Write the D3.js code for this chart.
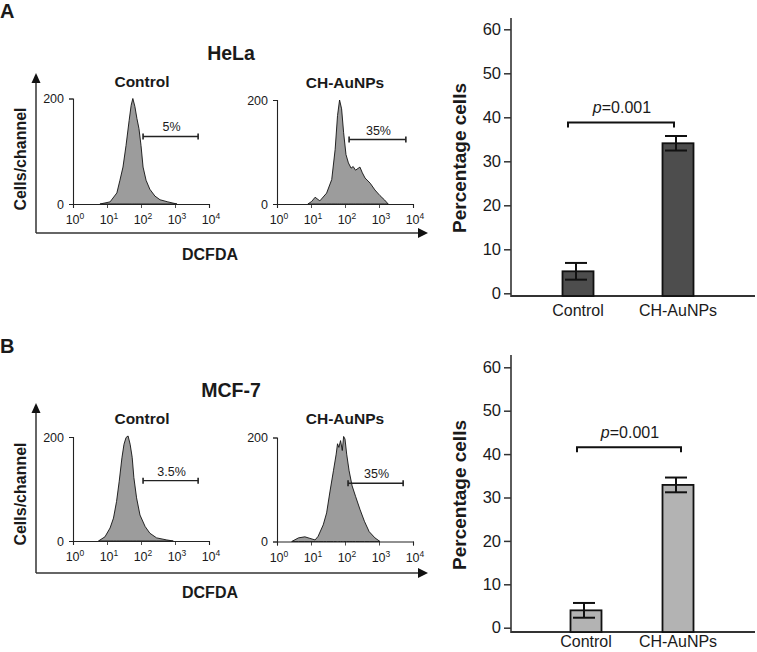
<!DOCTYPE html>
<html><head><meta charset="utf-8">
<script src="https://cdn.jsdelivr.net/npm/d3@7"></script>
<style>body{margin:0;background:#fff} text{font-family:Arial,"Liberation Sans",Helvetica,sans-serif;fill:#1a1a1a}</style>
</head><body><svg id="c" width="757" height="652"></svg>
<script>
// ---------- DATA ----------
// Flow cytometry histograms: DCFDA fluorescence (log scale) vs cells/channel
const histDecades = [0, 1, 2, 3, 4];
const histCountLabels = [0, 200];
const histMinorCounts = [0,10,20,30,40,50,60,70,80,90,100,110,120,130,140,150,160,170,180,190,200];
const histMajorCounts = [0, 50, 100, 150, 200];

const helaControlFL    = [6.2, 12.3, 19.5, 24, 29.5, 36.3, 44.7, 51.3, 57.5, 66, 75.9, 87.1, 100, 115, 141, 182, 257, 363, 617, 1148];
const helaControlCount = [0, 4, 21, 45, 70, 111, 158, 187, 200, 185, 162, 143, 111, 70, 45, 28, 15, 8, 4, 0];

const helaTreatedFL    = [8.1, 10.5, 13.2, 18.2, 28.8, 40.7, 51.3, 60.3, 69.2, 79.4, 91.2, 107, 126, 151, 174, 204, 275, 324, 389, 550, 759, 1072, 1445, 1862];
const helaTreatedCount = [0, 5, 13, 6, 21, 47, 105, 170, 200, 183, 137, 95, 79, 69, 72, 65, 71, 60, 50, 40, 27, 16, 8, 0];

const mcfControlFL     = [5.6, 8.7, 12.3, 15.5, 19.1, 22.9, 27.5, 31.6, 36.3, 41.7, 47.9, 55, 61.7, 74.1, 93.3, 132, 182, 288, 575, 891];
const mcfControlCount  = [0, 8, 25, 44, 76, 115, 160, 186, 199, 202, 186, 161, 122, 83, 50, 28, 15, 6, 2, 0];

const mcfTreatedFL     = [2.7, 4.3, 6.6, 9.3, 13.2, 16.2, 22.9, 28.8, 36.3, 45.7, 55, 60.3, 66, 74.1, 83.2, 91.2, 100, 112, 132, 162, 204, 275, 372, 513, 759, 1072];
const mcfTreatedCount  = [0, 7, 9, 6, 3, 10, 32, 55, 97, 136, 168, 188, 181, 194, 175, 202, 197, 168, 136, 107, 87, 62, 39, 19, 7, 0];

const gateRanges = [[115, 4786], [132, 6166], [115, 4786], [123, 5129]];
const gateLevels = [128, 124, 116, 112];
const gateLabels = ["5%", "35%", "3.5%", "35%"];

// Bar charts: percentage of DCFDA-positive cells
const barCategories = ["Control", "CH-AuNPs"];
const barTicks = [0, 10, 20, 30, 40, 50, 60];
const helaMeans = [5.0, 34.1];
const helaErrors = [1.9, 1.65];
const mcfMeans = [4.0, 32.9];
const mcfErrors = [1.7, 1.7];
const bracketLevels = [38.8, 41.6];
const pLabel = "0.001";

// ---------- DRAWING ----------
const svg = d3.select("#c");
const FONT = 'Arial,"Liberation Sans",Helvetica,sans-serif';
const zip = (a, b) => a.map((v, i) => [v, b[i]]);

function bigAxes(top, bottom) {
  const g = svg.append("g");
  g.append("line").attr("x1", 36).attr("x2", 36).attr("y1", bottom).attr("y2", top + 8)
    .attr("stroke", "#333").attr("stroke-width", 1.5);
  g.append("path").attr("d", `M36,${top} L31.5,${top + 10} L40.5,${top + 10} Z`).attr("fill", "#111");
  g.append("line").attr("x1", 36).attr("x2", 419).attr("y1", bottom).attr("y2", bottom)
    .attr("stroke", "#333").attr("stroke-width", 1.5);
  g.append("path").attr("d", `M428,${bottom} L418,${bottom - 5} L418,${bottom + 5} Z`).attr("fill", "#111");
}

function drawHist(o) {
  const g = svg.append("g");
  const x = d3.scaleLog().domain([1, 1e4]).range([o.x0, o.x0 + 136]);
  const y = d3.scaleLinear().domain([0, 200]).range([o.yZero, o.yTop]);
  const data = zip(o.fl, o.count);
  g.append("path").datum(data)
    .attr("d", d3.area().x(d => x(d[0])).y0(o.yZero).y1(d => y(d[1])))
    .attr("fill", "#9c9c9c").attr("stroke", "#111").attr("stroke-width", 0.9);
  // x axis
  const minor = [];
  [1, 10, 100, 1000].forEach(b => [2,3,4,5,6,7,8,9].forEach(m => minor.push(b * m)));
  const gx = g.append("g").attr("transform", `translate(0,${o.yZero})`);
  gx.call(d3.axisBottom(x).tickValues(minor).tickSize(2.5).tickFormat(""));
  gx.call(d3.axisBottom(x).tickValues(histDecades.map(e => Math.pow(10, e))).tickSize(4).tickFormat(""));
  gx.selectAll("path.domain").attr("stroke", "#222").attr("stroke-width", 1.1);
  gx.selectAll("line").attr("stroke", "#222").attr("stroke-width", 0.8);
  histDecades.forEach(e => {
    const t = g.append("text").attr("x", x(Math.pow(10, e)) + 2).attr("y", o.yZero + 20)
      .attr("text-anchor", "middle").style("font-size", "12.5px");
    t.append("tspan").text("10");
    t.append("tspan").attr("dy", -5).style("font-size", "8.5px").text(e);
  });
  // y axis
  const gy = g.append("g").attr("transform", `translate(${o.x0},0)`);
  gy.call(d3.axisLeft(y).tickValues(histMinorCounts).tickSize(1.5).tickFormat(""));
  gy.call(d3.axisLeft(y).tickValues(histMajorCounts).tickSize(3).tickFormat(""));
  gy.call(d3.axisLeft(y).tickValues(histCountLabels).tickSize(4).tickPadding(5));
  gy.selectAll("path.domain").attr("stroke", "#222").attr("stroke-width", 1.1);
  gy.selectAll("line").attr("stroke", "#222").attr("stroke-width", 0.8);
  gy.selectAll("text").style("font-size", "12.5px").style("font-family", FONT).attr("fill", "#1a1a1a");
  // gate
  const gy2 = y(o.gateLevel), gx1 = x(o.gate[0]), gx2 = x(o.gate[1]);
  g.append("line").attr("x1", gx1).attr("x2", gx2).attr("y1", gy2).attr("y2", gy2).attr("stroke", "#222").attr("stroke-width", 1.3);
  [gx1, gx2].forEach(v => g.append("line").attr("x1", v).attr("x2", v).attr("y1", gy2 - 3).attr("y2", gy2 + 3).attr("stroke", "#222").attr("stroke-width", 1.6));
  g.append("text").attr("x", (gx1 + gx2) / 2 + 1).attr("y", gy2 - 5).attr("text-anchor", "middle")
    .style("font-size", "12.5px").text(o.gateLabel);
  // title
  g.append("text").attr("x", o.titleX).attr("y", o.titleY).attr("text-anchor", "middle")
    .style("font-size", "15.5px").style("font-weight", "bold").text(o.title);
}

function drawBars(o) {
  const g = svg.append("g");
  const y = d3.scaleLinear().domain([0, 60]).range([o.yZero, o.ySixty]);
  const x = d3.scalePoint().domain(barCategories).range(o.xRange);
  const axisX = 511;
  const gy = g.append("g").attr("transform", `translate(${axisX},0)`);
  gy.call(d3.axisLeft(y).tickValues(barTicks).tickSize(7).tickPadding(3));
  gy.select("path.domain").remove();
  gy.selectAll("line").attr("stroke", "#333").attr("stroke-width", 1.5);
  gy.selectAll("text").style("font-size", "16.5px").style("font-family", FONT).attr("fill", "#1a1a1a");
  g.append("line").attr("x1", axisX).attr("x2", axisX).attr("y1", o.axisTop).attr("y2", o.axisLine + 1)
    .attr("stroke", "#333").attr("stroke-width", 1.6);
  g.append("line").attr("x1", axisX).attr("x2", 755).attr("y1", o.axisLine).attr("y2", o.axisLine)
    .attr("stroke", "#333").attr("stroke-width", 1.8);
  const bw = 31;
  barCategories.forEach((c, i) => {
    const xc = x(c);
    g.append("rect").attr("x", xc - bw / 2).attr("y", y(o.means[i])).attr("width", bw)
      .attr("height", o.axisLine - y(o.means[i])).attr("fill", o.fill).attr("stroke", "#111").attr("stroke-width", 1.8);
    const hi = y(o.means[i] + o.errs[i]), lo = y(o.means[i] - o.errs[i]);
    g.append("line").attr("x1", xc - 2).attr("x2", xc - 2).attr("y1", hi).attr("y2", lo).attr("stroke", "#111").attr("stroke-width", 2);
    [hi, lo].forEach(v => g.append("line").attr("x1", xc - 13).attr("x2", xc + 9).attr("y1", v).attr("y2", v).attr("stroke", "#111").attr("stroke-width", 2));
    g.append("text").attr("x", xc).attr("y", o.axisLine + o.catOff).attr("text-anchor", "middle")
      .style("font-size", "16px").text(c);
  });
  const by = y(o.bracket), bx1 = x(barCategories[0]) + o.bracketOff[0], bx2 = x(barCategories[1]) + o.bracketOff[1];
  g.append("path").attr("d", `M${bx1},${by + 5} L${bx1},${by} L${bx2},${by} L${bx2},${by + 5}`)
    .attr("fill", "none").attr("stroke", "#111").attr("stroke-width", 2);
  const t = g.append("text").attr("x", (bx1 + bx2) / 2 + 1).attr("y", by - 9.5).attr("text-anchor", "middle").style("font-size", "16px");
  t.append("tspan").style("font-style", "italic").text("p");
  t.append("tspan").text("=" + pLabel);
  g.append("text").attr("transform", `translate(${o.labelX},${o.labelY}) rotate(-90)`).attr("text-anchor", "middle")
    .style("font-size", "19px").style("font-weight", "bold").text("Percentage cells");
}

function panelLabels(letter, letterY, cell, cellY, yLabelY, dcfdaY) {
  svg.append("text").attr("x", 0).attr("y", letterY).style("font-size", "20px").style("font-weight", "bold").text(letter);
  svg.append("text").attr("x", 231).attr("y", cellY).attr("text-anchor", "middle").style("font-size", "19.5px").style("font-weight", "bold").text(cell);
  svg.append("text").attr("transform", `translate(26,${yLabelY}) rotate(-90)`).attr("text-anchor", "middle")
    .style("font-size", "16px").style("font-weight", "bold").text("Cells/channel");
  svg.append("text").attr("x", 210).attr("y", dcfdaY).attr("text-anchor", "middle").style("font-size", "16px").style("font-weight", "bold").text("DCFDA");
}

// Panel A
panelLabels("A", 18, "HeLa", 60, 159, 260);
bigAxes(73, 233);
drawHist({x0: 73, yZero: 204, yTop: 98.5, fl: helaControlFL, count: helaControlCount, gate: gateRanges[0], gateLevel: gateLevels[0], gateLabel: gateLabels[0], title: "Control", titleX: 142, titleY: 87});
drawHist({x0: 277, yZero: 204, yTop: 100, fl: helaTreatedFL, count: helaTreatedCount, gate: gateRanges[1], gateLevel: gateLevels[1], gateLabel: gateLabels[1], title: "CH-AuNPs", titleX: 345, titleY: 88});
drawBars({yZero: 293.3, ySixty: 29.3, axisTop: 18, axisLine: 296, xRange: [578, 678], means: helaMeans, errs: helaErrors, fill: "#4d4d4d", bracket: bracketLevels[0], bracketOff: [-10, -4], labelX: 466, labelY: 158, catOff: 19.5});

// Panel B
panelLabels("B", 353, "MCF-7", 397, 494, 598);
bigAxes(403, 573);
drawHist({x0: 73, yZero: 541, yTop: 437, fl: mcfControlFL, count: mcfControlCount, gate: gateRanges[2], gateLevel: gateLevels[2], gateLabel: gateLabels[2], title: "Control", titleX: 142, titleY: 424});
drawHist({x0: 277, yZero: 541.5, yTop: 437.5, fl: mcfTreatedFL, count: mcfTreatedCount, gate: gateRanges[3], gateLevel: gateLevels[3], gateLabel: gateLabels[3], title: "CH-AuNPs", titleX: 345, titleY: 424});
drawBars({yZero: 627.7, ySixty: 367.3, axisTop: 355, axisLine: 632, xRange: [586, 678], means: mcfMeans, errs: mcfErrors, fill: "#b3b3b3", bracket: bracketLevels[1], bracketOff: [-9, 3], labelX: 466, labelY: 495, catOff: 15});
</script></body></html>
